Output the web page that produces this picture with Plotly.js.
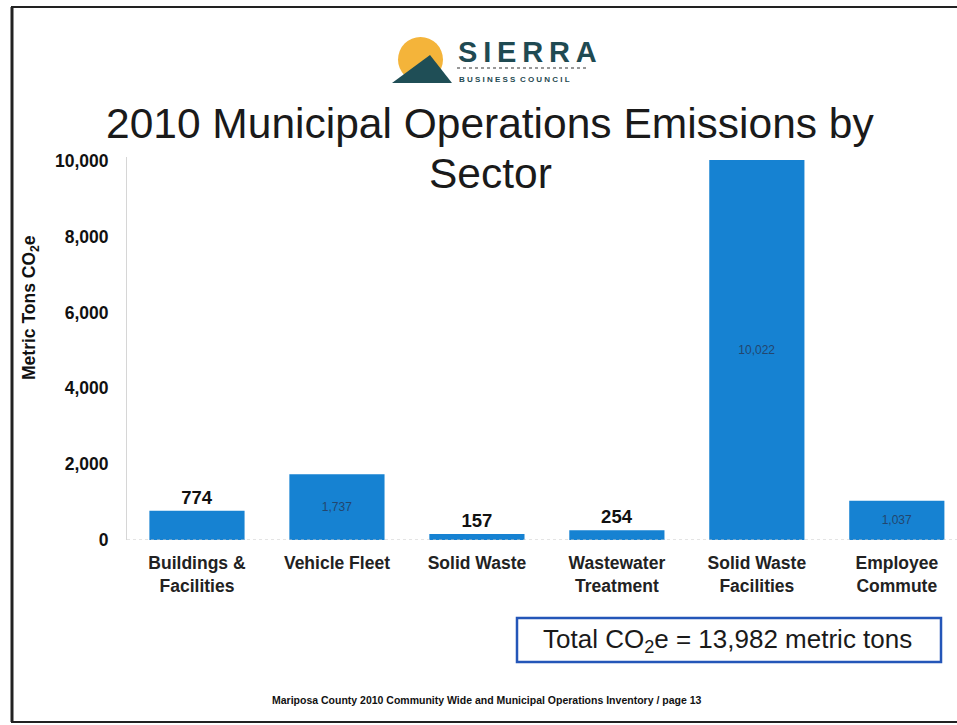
<!DOCTYPE html>
<html><head><meta charset="utf-8">
<script src="https://cdn.plot.ly/plotly-3.0.1.min.js"></script>
<style>html,body{margin:0;padding:0;background:#fff;}#chart{width:957px;height:725px;}</style>
</head><body><div id="chart"></div>
<script>
const categories = ["Buildings &amp;<br>Facilities", "Vehicle Fleet", "Solid Waste", "Wastewater<br>Treatment", "Solid Waste<br>Facilities", "Employee<br>Commute"];
const emissions = [774, 1737, 157, 254, 10022, 1037];
const labelPositions = ["outside", "inside", "outside", "outside", "inside", "inside"];
const yTicks = [0, 2000, 4000, 6000, 8000, 10000];
const yTickLabels = ["0", "2,000", "4,000", "6,000", "8,000", "10,000"];

const trace = {
  type: "bar",
  x: categories,
  y: emissions,
  marker: {color: "#1682D2"},
  width: 0.68,
  text: emissions.map(v => v.toLocaleString("en-US")),
  textposition: labelPositions,
  insidetextanchor: "middle",
  insidetextfont: {family: "Liberation Sans, Arial", size: 12, color: "#23466e"},
  outsidetextfont: {family: "Liberation Sans, Arial", size: 18.5, color: "#111", weight: "bold"},
  textangle: 0,
  cliponaxis: false,
  hoverinfo: "none"
};

function px(x){ return (x - 127) / 830; }
function py(y){ return (540 - y) / 383; }

const layout = {
  width: 957, height: 725,
  margin: {l: 127, r: 0, t: 157, b: 185},
  paper_bgcolor: "#fff", plot_bgcolor: "#fff",
  showlegend: false,
  font: {family: "Liberation Sans, Arial", color: "#111"},
  xaxis: {
    range: [-0.5, 5.43],
    showgrid: false, zeroline: false, showline: false,
    ticks: "outside", ticklen: 7, tickcolor: "rgba(0,0,0,0)",
    tickfont: {family: "Liberation Sans, Arial", size: 17.5, color: "#222", weight: "bold"},
    fixedrange: true
  },
  yaxis: {
    range: [0, 10100],
    tickvals: yTicks, ticktext: yTickLabels,
    showgrid: false, zeroline: false,
    showline: true, linecolor: "#d6d6d6", linewidth: 1,
    ticks: "outside", ticklen: 14, tickcolor: "rgba(0,0,0,0)",
    tickfont: {family: "Liberation Sans, Arial", size: 17.5, color: "#111", weight: "bold"},
    fixedrange: true
  },
  shapes: [
    {type: "line", xref: "paper", yref: "y", x0: 0, x1: 1, y0: 0, y1: 0, line: {color: "#c8c8c8", width: 1, dash: "dot"}},
    // page frame
    {type: "line", xref: "paper", yref: "paper", x0: px(12), x1: px(12), y0: py(7), y1: py(722), line: {color: "#222", width: 3}},
    {type: "line", xref: "paper", yref: "paper", x0: px(11), x1: px(957), y0: py(7), y1: py(7), line: {color: "#222", width: 2}},
    {type: "line", xref: "paper", yref: "paper", x0: px(11), x1: px(957), y0: py(722), y1: py(722), line: {color: "#222", width: 2}},
    // total box
    {type: "rect", xref: "paper", yref: "paper", x0: px(517), x1: px(941), y0: py(662), y1: py(618), line: {color: "#2456b8", width: 2.5}, fillcolor: "rgba(0,0,0,0)"},
    // logo
    {type: "circle", xref: "paper", yref: "paper", x0: px(398), x1: px(443), y0: py(82), y1: py(37), fillcolor: "#F4B43A", line: {width: 0}, layer: "above"},
    {type: "path", xref: "paper", yref: "paper", path: `M ${px(392)} ${py(83)} L ${px(430)} ${py(55)} L ${px(452)} ${py(83)} Z`, fillcolor: "#1F4E56", line: {width: 0}, layer: "above"},
    {type: "line", xref: "paper", yref: "paper", x0: px(457), x1: px(586), y0: py(68), y1: py(68), line: {color: "#777", width: 1.5, dash: "dot"}}
  ],
  annotations: [
    {text: "2010 Municipal Operations Emissions by", xref: "paper", yref: "paper", x: px(490), y: py(124), xanchor: "center", yanchor: "middle", showarrow: false, font: {family: "Liberation Sans, Arial", size: 42.5, color: "#1a1a1a"}},
    {text: "Sector", xref: "paper", yref: "paper", x: px(490), y: py(173), xanchor: "center", yanchor: "middle", showarrow: false, font: {family: "Liberation Sans, Arial", size: 42.5, color: "#1a1a1a"}},
    {text: "Metric Tons CO<sub>2</sub>e", xref: "paper", yref: "paper", x: px(30), y: py(308), xanchor: "center", yanchor: "middle", textangle: -90, showarrow: false, font: {family: "Liberation Sans, Arial", size: 17.5, color: "#111", weight: "bold"}},
    {text: "Total CO<sub>2</sub>e = 13,982 metric tons", xref: "paper", yref: "paper", x: px(727), y: py(640), xanchor: "center", yanchor: "middle", showarrow: false, font: {family: "Liberation Sans, Arial", size: 26, color: "#1a1a1a"}},
    {text: "Mariposa County 2010 Community Wide and Municipal Operations Inventory / page 13", xref: "paper", yref: "paper", x: px(486), y: py(700), xanchor: "center", yanchor: "middle", showarrow: false, font: {family: "Liberation Sans, Arial", size: 10.5, color: "#111", weight: "bold"}},
    {text: "S\u2009I\u2009E\u2009R\u2009R\u2009A", xref: "paper", yref: "paper", x: px(456), y: py(52), xanchor: "left", yanchor: "middle", showarrow: false, font: {family: "Liberation Sans, Arial", size: 29, color: "#1f4a52", weight: "bold"}},
    {text: "B U S I N E S S  C O U N C I L", xref: "paper", yref: "paper", x: px(457), y: py(79), xanchor: "left", yanchor: "middle", showarrow: false, font: {family: "Liberation Sans, Arial", size: 8, color: "#1f4a52", weight: "bold"}}
  ]
};

Plotly.newPlot("chart", [trace], layout, {staticPlot: true, displayModeBar: false});
</script>
</body></html>
